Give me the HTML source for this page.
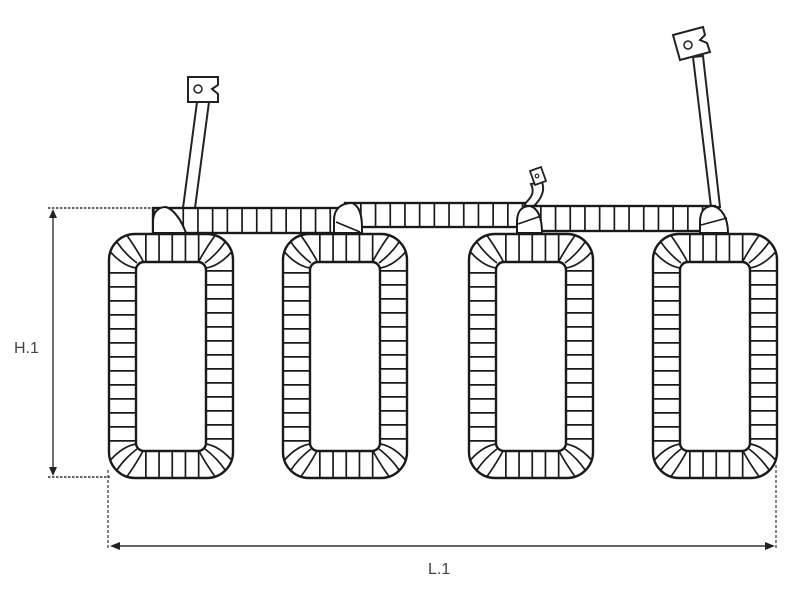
<!DOCTYPE html>
<html><head><meta charset="utf-8"><style>
html,body{margin:0;padding:0;background:#fff;}
svg{display:block;}
</style></head><body>
<svg width="808" height="595" viewBox="0 0 808 595" xmlns="http://www.w3.org/2000/svg">
<defs>
  <g id="fan" stroke="#1a1a1a" stroke-width="1.7" fill="none">
    <path d="M27,34 Q14,32 1.5,18"/>
    <path d="M28,29 Q16,20 7.6,7.6"/>
    <path d="M34,27 Q27,14 18,1.5"/>
  </g>
  <g id="coil">
    <rect x="0" y="0" width="124" height="244" rx="26" ry="26" fill="#fff"/>
    <g fill="none" stroke="#1a1a1a" stroke-width="1.7">
      <path d="M1,38 Q14,34 27,38" stroke-width="0"/>
    </g>
    <line x1="13.5" y1="38" x2="13.5" y2="212" stroke="#1a1a1a" stroke-width="27" stroke-dasharray="1.7 12.3"/>
    <line x1="110.5" y1="36" x2="110.5" y2="212" stroke="#1a1a1a" stroke-width="27" stroke-dasharray="1.7 12.3"/>
    <line x1="36" y1="14" x2="92" y2="14" stroke="#1a1a1a" stroke-width="28" stroke-dasharray="1.7 11.5"/>
    <line x1="36" y1="230" x2="92" y2="230" stroke="#1a1a1a" stroke-width="28" stroke-dasharray="1.7 11.5"/>
    <use href="#fan"/>
    <use href="#fan" transform="translate(124,0) scale(-1,1)"/>
    <use href="#fan" transform="translate(0,244) scale(1,-1)"/>
    <use href="#fan" transform="translate(124,244) scale(-1,-1)"/>
    <rect x="0" y="0" width="124" height="244" rx="26" ry="26" fill="none" stroke="#1a1a1a" stroke-width="2.4"/>
    <rect x="27" y="28" width="70" height="189" rx="8" ry="8" fill="#fff" stroke="#1a1a1a" stroke-width="2.4"/>
  </g>
</defs>

<use href="#coil" x="109" y="234"/>
<use href="#coil" x="283" y="234"/>
<use href="#coil" x="469" y="234"/>
<use href="#coil" x="653" y="234"/>

<!-- leads -->
<g fill="#fff" stroke="#222" stroke-width="2">
  <polygon points="197,102 209,102 195,208 183,208"/>
  <polygon points="693,57 703,56 720,207 711,207"/>
  <path d="M531,184 C535,192 532,198 522,206 L534,206 C542,198 545,190 542,182 Z"/>
</g>

<!-- bus -->
<g stroke="#1a1a1a" fill="#fff">
  <rect x="153" y="208" width="190" height="25" stroke-width="2.2"/>
  <line x1="153" y1="220.5" x2="343" y2="220.5" stroke-width="25" stroke-dasharray="1.7 13"/>
  <rect x="153" y="208" width="190" height="25" fill="none" stroke-width="2.2"/>
  <rect x="345" y="203" width="180" height="24" stroke-width="2.2"/>
  <line x1="360" y1="215" x2="525" y2="215" stroke-width="24" stroke-dasharray="1.7 13"/>
  <rect x="345" y="203" width="180" height="24" fill="none" stroke-width="2.2"/>
  <rect x="525" y="206" width="190" height="25" stroke-width="2.2"/>
  <line x1="540" y1="218.5" x2="715" y2="218.5" stroke-width="25" stroke-dasharray="1.7 13"/>
  <rect x="525" y="206" width="190" height="25" fill="none" stroke-width="2.2"/>
  <!-- humps -->
  <path d="M153,233 L153,222 C153,210 160,207 166,207 C175,210 182,222 186,233 Z" stroke-width="2"/>
  <path d="M334,233 L334,220 C334,208 342,203 352,203 C360,206 362,216 362,228 L362,233 Z" stroke-width="2"/>
  <path d="M336,222 L360,232" fill="none" stroke-width="1.6"/>
  <path d="M517,233 L517,222 C517,210 523,206 530,206 C538,208 542,218 542,233 Z" stroke-width="2"/>
  <path d="M518,224 L541,216" fill="none" stroke-width="1.6"/>
  <path d="M700,233 L700,222 C700,210 706,206 713,206 C722,208 728,218 728,233 Z" stroke-width="2"/>
  <path d="M701,225 L727,218" fill="none" stroke-width="1.6"/>
</g>

<!-- terminals -->
<g fill="#fff" stroke="#222" stroke-width="2">
  <path d="M188,77 L218,77 L218,85 L212,89 L218,94 L218,102 L188,102 Z"/>
  <circle cx="198" cy="89" r="4" stroke-width="1.5"/>
  <path d="M673,35 L703,27 L705,35 L700,40 L707,43 L710,52 L680,60 Z"/>
  <circle cx="688" cy="45" r="4" stroke-width="1.5"/>
  <path d="M530,171 L541,167 L546,181 L535,185 Z" stroke-width="1.8"/>
  <circle cx="537" cy="176" r="1.8" stroke-width="1.2"/>
</g>

<!-- dimensions -->
<g stroke="#333" fill="none">
  <line x1="48" y1="208" x2="153" y2="208" stroke-width="1.6" stroke-dasharray="2.5 1.5"/>
  <line x1="48" y1="477" x2="110" y2="477" stroke-width="1.6" stroke-dasharray="2.5 1.5"/>
  <line x1="53" y1="214" x2="53" y2="471" stroke-width="1.4"/>
  <line x1="108" y1="470" x2="108" y2="550" stroke-width="1.2" stroke-dasharray="3 2"/>
  <line x1="776" y1="465" x2="776" y2="550" stroke-width="1.2" stroke-dasharray="3 2"/>
  <line x1="116" y1="546" x2="769" y2="546" stroke-width="1.6"/>
</g>
<g fill="#222">
  <polygon points="53,209 49,218 57,218"/>
  <polygon points="53,476 49,467 57,467"/>
  <polygon points="110,546 120,542 120,550"/>
  <polygon points="775,546 765,542 765,550"/>
</g>
<text x="14" y="353" font-family="Liberation Sans, sans-serif" font-size="16" fill="#444">H.1</text>
<text x="428" y="574" font-family="Liberation Sans, sans-serif" font-size="16" fill="#444">L.1</text>
</svg>
</body></html>
